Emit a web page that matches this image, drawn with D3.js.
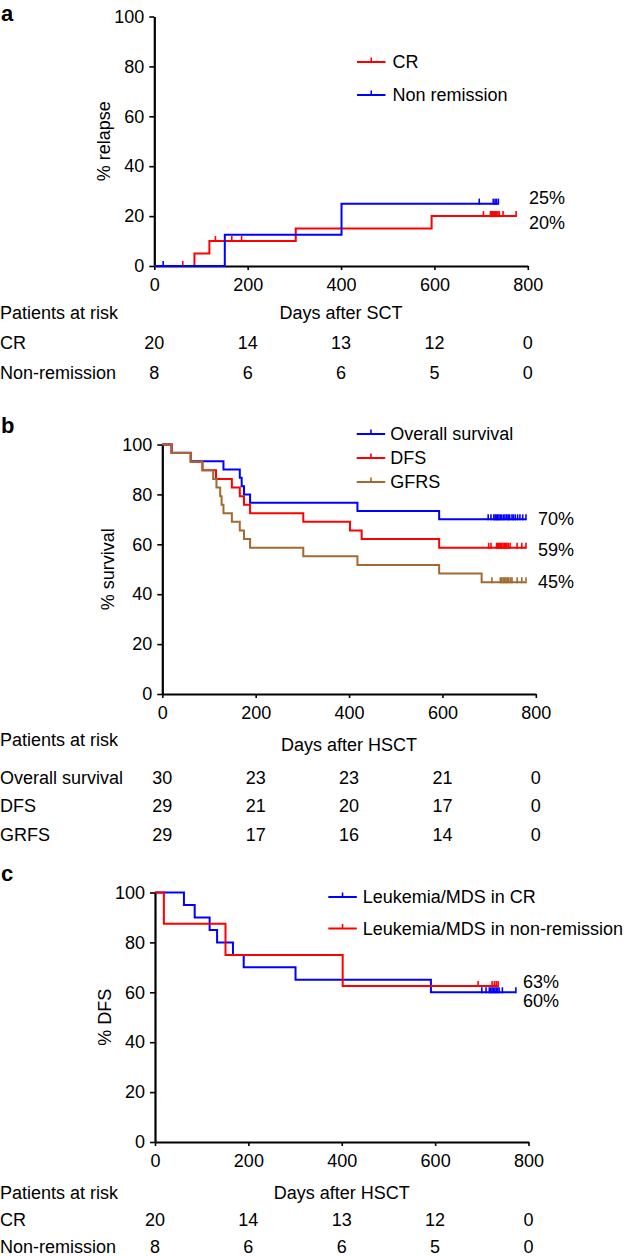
<!DOCTYPE html>
<html>
<head>
<meta charset="utf-8">
<script src="https://cdn.jsdelivr.net/npm/d3@7"></script>
<style>
  html, body { margin: 0; padding: 0; background: #fff; }
  svg { display: block; }
  text { font-family: 'Liberation Sans', Arial, Helvetica, sans-serif; fill: #000; }
</style>
</head>
<body>
<svg id="chart" width="632" height="1256"></svg>
<script>
// ---------------- DATA ----------------
const xTicks = [0, 200, 400, 600, 800];
const yTicks = [0, 20, 40, 60, 80, 100];

// Panel a: cumulative relapse (%), events [day, value]
const aCRSteps = [[86, 5], [118, 10], [303, 15], [594, 20]];
const aCREnd = 775;
const aCRCensor = [61, 131, 166, 187, 705, 720, 722, 724, 726, 729, 731, 733, 736, 739, 747, 775];
const aNRSteps = [[151, 12.5], [401, 25]];
const aNREnd = 737;
const aNRCensor = [19, 696, 726, 730, 733, 737];
const aLegend = ["CR", "Non remission"];
const aEndLabels = ["25%", "20%"];
const aRiskRows = ["CR", "Non-remission"];
const aRiskCR = [20, 14, 13, 12, 0];
const aRiskNR = [8, 6, 6, 5, 0];

// Panel b: survival (%)
const bOSSteps = [[20, 96.7], [61, 93.3], [131, 90], [166, 86.7], [170, 83.3], [175, 80], [188, 76.7], [418, 73.3], [593, 70]];
const bOSEnd = 779;
const bOSCensor = [698, 704, 710, 713, 716, 718, 721, 724, 727, 731, 734, 738, 741, 744, 749, 752, 756, 761, 766, 772, 779];
const bDFSSteps = [[20, 96.6], [61, 93.1], [86, 89.7], [115, 86.2], [149, 82.8], [166, 79.3], [175, 75.9], [188, 72.4], [302, 69], [402, 65.5], [427, 62.1], [593, 58.6]];
const bDFSEnd = 779;
const bDFSCensor = [699, 704, 716, 718, 720, 723, 725, 727, 730, 733, 735, 738, 741, 745, 760, 770, 779];
const bGRFSSteps = [[20, 96.6], [61, 93.1], [86, 89.7], [109, 86.2], [116, 82.8], [124, 79.3], [127, 75.9], [131, 72.4], [149, 69], [166, 65.5], [175, 62.1], [188, 58.6], [302, 55.2], [418, 51.7], [593, 48.3], [684, 44.8]];
const bGRFSEnd = 779;
const bGRFSCensor = [706, 724, 727, 730, 733, 736, 739, 742, 746, 749, 760, 770, 779];
const bLegend = ["Overall survival", "DFS", "GFRS"];
const bEndLabels = ["70%", "59%", "45%"];
const bRiskRows = ["Overall survival", "DFS", "GRFS"];
const bRiskOS = [30, 23, 23, 21, 0];
const bRiskDFS = [29, 21, 20, 17, 0];
const bRiskGRFS = [29, 17, 16, 14, 0];

// Panel c: DFS (%)
const cCRSteps = [[62, 95], [85, 90], [117, 85], [133, 80], [167, 75], [190, 70], [301, 65], [591, 60]];
const cCREnd = 773;
const cCRCensor = [700, 709, 716, 719, 722, 725, 728, 731, 734, 737, 744, 773];
const cNRSteps = [[19, 87.5], [151, 75], [402, 62.5]];
const cNREnd = 735;
const cNRCensor = [692, 722, 727, 731, 735];
const cLegend = ["Leukemia/MDS in CR", "Leukemia/MDS in non-remission"];
const cEndLabels = ["63%", "60%"];
const cRiskRows = ["CR", "Non-remission"];
const cRiskCR = [20, 14, 13, 12, 0];
const cRiskNR = [8, 6, 6, 5, 0];

// ---------------- DRAW ----------------
const RED = "#ff0000", BLUE = "#0000ff", BROWN = "#a4692f";
const svg = d3.select("#chart");
const FS = 18;

function valueAt(steps, start, t) {
  let v = start;
  for (const [d, val] of steps) { if (d <= t) v = val; }
  return v;
}

function drawPanel(p) {
  const x = d3.scaleLinear().domain([0, 800]).range([p.x0, p.x0 + 373.5]);
  const y = d3.scaleLinear().domain([0, 100]).range([p.y0, p.y0 - 249.5]);
  const g = svg.append("g");

  // panel letter
  g.append("text").attr("x", 1).attr("y", p.letterY).attr("font-size", 22).attr("font-weight", "bold").text(p.letter);

  // axes
  const xAxis = d3.axisBottom(x).tickValues(xTicks).tickSize(4).tickSizeOuter(0).tickPadding(8.5);
  const yAxis = d3.axisLeft(y).tickValues(yTicks).tickSize(5).tickSizeOuter(0).tickPadding(5);
  const gx = g.append("g").attr("transform", `translate(0,${p.y0})`).call(xAxis);
  const gy = g.append("g").attr("transform", `translate(${p.x0},0)`).call(yAxis);
  [gx, gy].forEach(a => {
    a.select(".domain").attr("stroke", "#000").attr("stroke-width", 2.2);
    a.selectAll(".tick line").attr("stroke", "#000").attr("stroke-width", 1.6);
    a.selectAll(".tick text").attr("font-size", FS).attr("fill", "#000")
      .attr("font-family", "'Liberation Sans', Arial, Helvetica, sans-serif");
  });

  // y title
  g.append("text").attr("transform", `translate(${p.yTitleX},${y(50)}) rotate(-90)`)
    .attr("text-anchor", "middle").attr("dominant-baseline", "central").attr("font-size", FS).text(p.yTitle);

  // series
  const line = d3.line().x(d => x(d[0])).y(d => y(d[1])).curve(d3.curveStepAfter);
  p.series.forEach(s => {
    const pts = [[0, s.start]].concat(s.steps);
    pts.push([s.end, s.steps[s.steps.length - 1][1]]);
    g.append("path").datum(pts).attr("d", line).attr("fill", "none")
      .attr("stroke", s.color).attr("stroke-width", 2);
    g.selectAll(null).data(s.censor).enter().append("line")
      .attr("x1", d => x(d)).attr("x2", d => x(d))
      .attr("y1", d => y(valueAt(s.steps, s.start, d)) + 1)
      .attr("y2", d => y(valueAt(s.steps, s.start, d)) - 5)
      .attr("stroke", s.color).attr("stroke-width", 1.6);
  });

  // legend
  p.legend.forEach((lab, i) => {
    const ly = p.legY[i];
    g.append("line").attr("x1", p.legX).attr("x2", p.legX + 28.5).attr("y1", ly).attr("y2", ly)
      .attr("stroke", p.series[i].color).attr("stroke-width", 2);
    g.append("line").attr("x1", p.legX + 14.25).attr("x2", p.legX + 14.25).attr("y1", ly).attr("y2", ly - 4.5)
      .attr("stroke", p.series[i].color).attr("stroke-width", 1.6);
    g.append("text").attr("x", p.legX + p.legTextDx).attr("y", ly).attr("dominant-baseline", "central")
      .attr("font-size", FS).text(lab);
  });

  // end labels
  p.endLabels.forEach((lab, i) => {
    g.append("text").attr("x", p.endX).attr("y", p.endY[i]).attr("dominant-baseline", "central")
      .attr("font-size", FS).text(lab);
  });

  // risk table
  g.append("text").attr("x", 0).attr("y", p.riskHeadY).attr("dominant-baseline", "central")
    .attr("font-size", FS).text("Patients at risk");
  g.append("text").attr("x", x(400)).attr("y", p.xTitleY).attr("text-anchor", "middle")
    .attr("dominant-baseline", "central").attr("font-size", FS).text(p.xTitle);
  p.riskRows.forEach((lab, i) => {
    const ry = p.riskY[i];
    g.append("text").attr("x", 0).attr("y", ry).attr("dominant-baseline", "central").attr("font-size", FS).text(lab);
    g.selectAll(null).data(p.riskVals[i]).enter().append("text")
      .attr("x", (d, j) => x(xTicks[j])).attr("y", ry).attr("text-anchor", "middle")
      .attr("dominant-baseline", "central").attr("font-size", FS).text(d => d);
  });
}

drawPanel({
  letter: "a", letterY: 21, x0: 154.3, y0: 266, yTitle: "% relapse", yTitleX: 104,
  xTitle: "Days after SCT", xTitleY: 313, riskHeadY: 313,
  series: [
    { color: RED, start: 0, steps: aCRSteps, end: aCREnd, censor: aCRCensor },
    { color: BLUE, start: 0, steps: aNRSteps, end: aNREnd, censor: aNRCensor }
  ],
  legend: aLegend, legX: 357, legY: [62, 95], legTextDx: 35.5,
  endLabels: aEndLabels, endX: 529, endY: [198, 223],
  riskRows: aRiskRows, riskY: [343, 373], riskVals: [aRiskCR, aRiskNR]
});

drawPanel({
  letter: "b", letterY: 433, x0: 162.3, y0: 694, yTitle: "% survival", yTitleX: 108,
  xTitle: "Days after HSCT", xTitleY: 745, riskHeadY: 740,
  series: [
    { color: BLUE, start: 100, steps: bOSSteps, end: bOSEnd, censor: bOSCensor },
    { color: RED, start: 100, steps: bDFSSteps, end: bDFSEnd, censor: bDFSCensor },
    { color: BROWN, start: 100, steps: bGRFSSteps, end: bGRFSEnd, censor: bGRFSCensor }
  ],
  legend: bLegend, legX: 356.7, legY: [434, 458, 482], legTextDx: 33.5,
  endLabels: bEndLabels, endX: 538, endY: [518.5, 550, 581.5],
  riskRows: bRiskRows, riskY: [778, 806, 835], riskVals: [bRiskOS, bRiskDFS, bRiskGRFS]
});

drawPanel({
  letter: "c", letterY: 881, x0: 155, y0: 1142, yTitle: "% DFS", yTitleX: 105,
  xTitle: "Days after HSCT", xTitleY: 1193, riskHeadY: 1193,
  series: [
    { color: BLUE, start: 100, steps: cCRSteps, end: cCREnd, censor: cCRCensor },
    { color: RED, start: 100, steps: cNRSteps, end: cNREnd, censor: cNRCensor }
  ],
  legend: cLegend, legX: 328.3, legY: [897, 928.5], legTextDx: 34.5,
  endLabels: cEndLabels, endX: 523, endY: [982, 1001],
  riskRows: cRiskRows, riskY: [1220, 1247], riskVals: [cRiskCR, cRiskNR]
});
</script>
</body>
</html>
